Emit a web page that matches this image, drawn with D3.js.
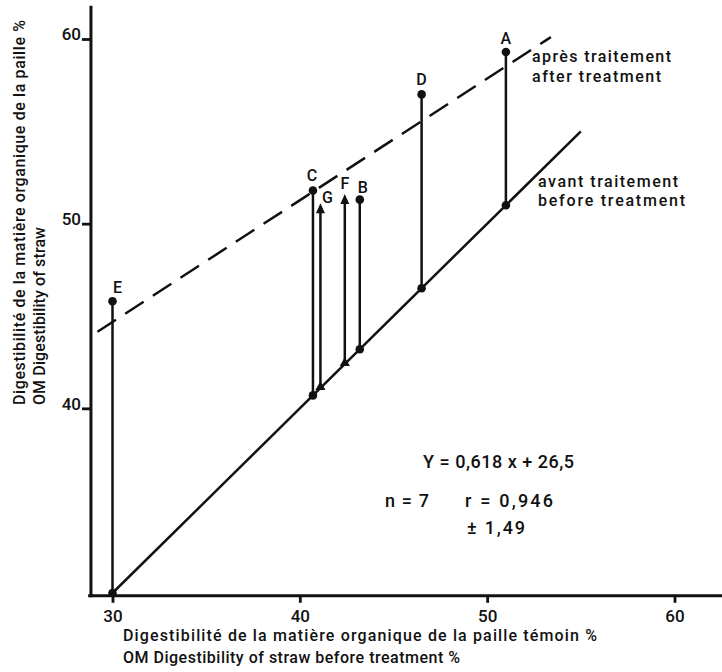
<!DOCTYPE html>
<html>
<head>
<meta charset="utf-8">
<script src="https://cdn.jsdelivr.net/npm/d3@7"></script>
<style>
  body { margin: 0; background: #fff; }
  text { font-family: Roboto, "DejaVu Sans", sans-serif; font-weight: 500; fill: #111; }
</style>
</head>
<body>
<div id="chart"></div>
<script>
// straw samples: digestibility before (control) and after treatment
const labels = ["A", "B", "C", "D", "E", "F", "G"];
const before = [51.0, 43.2, 40.7, 46.5, 30.0, 42.4, 41.1];
const after  = [59.3, 51.3, 51.8, 57.0, 45.8, 51.6, 51.1];
const marker = ["dot", "dot", "dot", "dot", "dot", "arrow", "arrow"];

const xTicks = [30, 40, 50, 60];
const yTicks = [40, 50, 60];

// fitted lines
const afterLine = [[29.2, 44.15], [53.4, 60.1]];
const beforeLine = [[30, 30], [55, 55]];

const width = 722, height = 672;

const svg = d3.select("#chart").append("svg")
    .attr("width", width)
    .attr("height", height);

const x = d3.scaleLinear().domain([30, 60]).range([112.5, 674.5]);
const y = d3.scaleLinear().domain([30, 60]).range([593, 39]);

// axes lines
svg.append("line")
    .attr("x1", x(28.7)).attr("x2", width)
    .attr("y1", y(29.85)).attr("y2", y(29.85))
    .attr("stroke", "#111").attr("stroke-width", 3);
svg.append("line")
    .attr("x1", x(28.85)).attr("x2", x(28.85))
    .attr("y1", y(61.8)).attr("y2", y(29.85) + 1.5)
    .attr("stroke", "#111").attr("stroke-width", 3);

const xAxis = svg.append("g")
    .attr("transform", `translate(0,${y(29.85)})`)
    .call(d3.axisBottom(x).tickValues(xTicks).tickSize(7).tickPadding(7));
xAxis.select(".domain").remove();
xAxis.selectAll("line").attr("stroke", "#111").attr("stroke-width", 2.8);
xAxis.selectAll("text").attr("font-size", 17).attr("font-family", null).attr("fill", "#111");

const yAxis = svg.append("g")
    .attr("transform", `translate(${x(28.85)},0)`)
    .call(d3.axisLeft(y).tickValues(yTicks).tickSize(9).tickPadding(1));
yAxis.select(".domain").remove();
yAxis.selectAll("line").attr("stroke", "#111").attr("stroke-width", 2.8);
yAxis.selectAll("text").attr("font-size", 17).attr("dy", "0.05em")
    .attr("font-family", null).attr("fill", "#111");

// regression lines
const line = d3.line().x(d => x(d[0])).y(d => y(d[1]));
svg.append("path").datum(afterLine)
    .attr("d", line).attr("fill", "none")
    .attr("stroke", "#111").attr("stroke-width", 2.5)
    .attr("stroke-dasharray", "22,11");
svg.append("path").datum(beforeLine)
    .attr("d", line).attr("fill", "none")
    .attr("stroke", "#111").attr("stroke-width", 2.5);

const data = labels.map((l, i) => ({ label: l, x: before[i], y0: before[i], y1: after[i], type: marker[i] }));

// vertical segments
svg.selectAll(".seg").data(data).enter().append("line")
    .attr("class", "seg")
    .attr("x1", d => x(d.x)).attr("x2", d => x(d.x))
    .attr("y1", d => y(d.y0))
    .attr("y2", d => d.type === "arrow" ? y(d.y1) + 8 : y(d.y1))
    .attr("stroke", "#111").attr("stroke-width", 2.5);

// dots
const dots = data.filter(d => d.type === "dot");
svg.selectAll(".top").data(dots).enter().append("circle")
    .attr("cx", d => x(d.x)).attr("cy", d => y(d.y1)).attr("r", 4.3).attr("fill", "#111");
svg.selectAll(".bot").data(dots).enter().append("circle")
    .attr("cx", d => x(d.x)).attr("cy", d => y(d.y0)).attr("r", 4.3).attr("fill", "#111");

// arrows
const arrows = data.filter(d => d.type === "arrow");
svg.selectAll(".head").data(arrows).enter().append("path")
    .attr("d", d => {
        const cx = x(d.x), cy = y(d.y1);
        return `M${cx},${cy} L${cx - 4.5},${cy + 10} L${cx + 4.5},${cy + 10} Z`;
    })
    .attr("fill", "#111");
svg.selectAll(".tri").data(arrows).enter().append("path")
    .attr("transform", d => `translate(${x(d.x)},${y(d.y0) - 1})`)
    .attr("d", d3.symbol().type(d3.symbolTriangle).size(45))
    .attr("fill", "#111");

// point letters
const labelDx = { A: 0, B: 3, C: -1, D: 0, E: 5, F: 0, G: 7 };
const labelDy = { A: -8, B: -7, C: -9, D: -9, E: -8, F: -5, G: 0 };
svg.selectAll(".lbl").data(data).enter().append("text")
    .attr("x", d => x(d.x) + labelDx[d.label])
    .attr("y", d => y(d.y1) + labelDy[d.label])
    .attr("text-anchor", "middle")
    .attr("font-size", 16)
    .text(d => d.label);

// text helper, stretched to the measured width
function txt(t, px, py, size, len) {
    const el = svg.append("text").attr("x", px).attr("y", py).attr("font-size", size).text(t);
    if (len) el.attr("textLength", len).attr("lengthAdjust", "spacing");
    return el;
}
txt("après traitement", 532, 62, 16, 139);
txt("after treatment", 532, 82, 16, 129);
txt("avant traitement", 538, 187, 16, 140);
txt("before treatment", 538, 206, 16, 147);

// regression stats
txt("Y = 0,618 x + 26,5", 423, 468, 18, 151);
txt("n = 7", 385, 507, 18, 44);
txt("r = 0,946", 465, 507, 18, 88);
txt("± 1,49", 467, 534, 18, 58);

// axis titles
txt("Digestibilité de la matière organique de la paille témoin %", 123, 641, 16, 474);
txt("OM Digestibility of straw before treatment %", 123, 663, 16, 337);

svg.append("text")
    .attr("transform", "translate(25,405) rotate(-90)")
    .attr("font-size", 16)
    .attr("textLength", 385).attr("lengthAdjust", "spacing")
    .text("Digestibilité de la matière organique de la paille %");
svg.append("text")
    .attr("transform", "translate(45,405) rotate(-90)")
    .attr("font-size", 16)
    .attr("textLength", 178).attr("lengthAdjust", "spacing")
    .text("OM Digestibility of straw");
</script>
</body>
</html>
